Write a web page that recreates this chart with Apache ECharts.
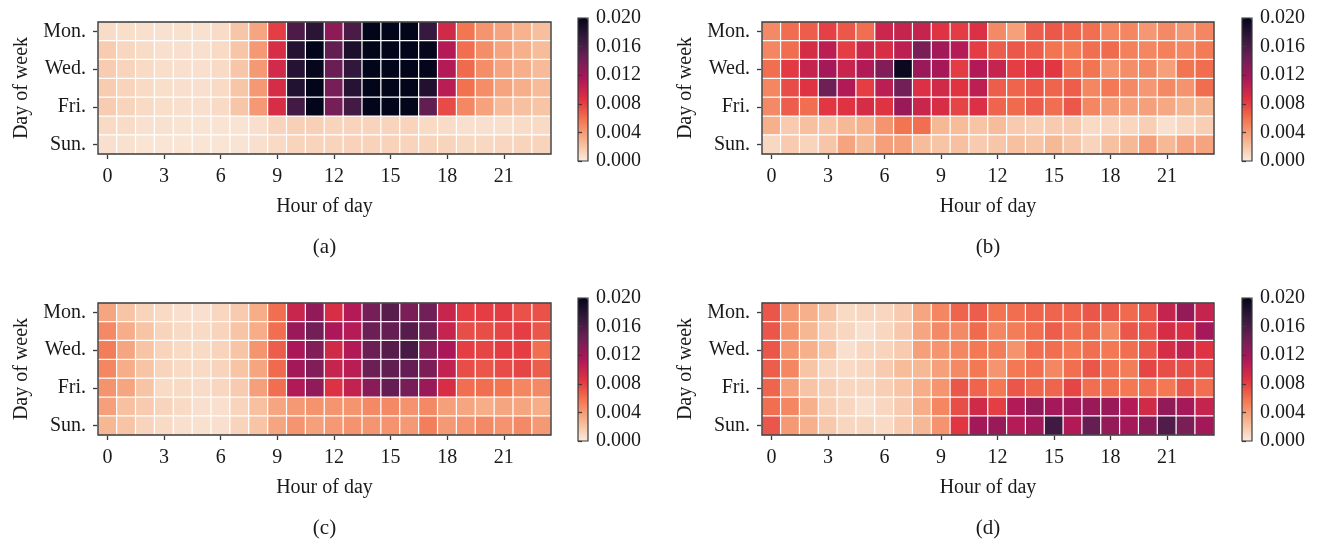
<!DOCTYPE html>
<html>
<head>
<meta charset="utf-8">
<script src="https://cdn.jsdelivr.net/npm/echarts@6/dist/echarts.min.js"></script>
<style>
  html, body { margin: 0; padding: 0; background: #ffffff; }
  #chart { width: 1319px; height: 542px; }
</style>
</head>
<body>
<div id="chart"></div>
<script>
// ---- data -------------------------------------------------------------
const hours = ['0','1','2','3','4','5','6','7','8','9','10','11','12','13','14','15','16','17','18','19','20','21','22','23'];
const days = ['Mon.', 'Tue.', 'Wed.', 'Thu.', 'Fri.', 'Sat.', 'Sun.'];
const panelLabels = ['(a)', '(b)', '(c)', '(d)'];
const colorbarMin = 0;
const colorbarMax = 0.02;
const colorbarStep = 0.004;

// rows: Mon..Sun, columns: hour 0..23
const heatA = [
  [0.0008,0.0007,0.0006,0.0005,0.0005,0.0005,0.0008,0.0019,0.0035,0.0081,0.0160,0.0177,0.0129,0.0161,0.0210,0.0210,0.0210,0.0171,0.0095,0.0057,0.0043,0.0036,0.0029,0.0023],
  [0.0016,0.0011,0.0008,0.0006,0.0006,0.0006,0.0009,0.0019,0.0041,0.0091,0.0180,0.0210,0.0149,0.0185,0.0210,0.0210,0.0210,0.0198,0.0111,0.0060,0.0046,0.0036,0.0030,0.0024],
  [0.0016,0.0012,0.0009,0.0007,0.0006,0.0006,0.0009,0.0019,0.0041,0.0094,0.0180,0.0198,0.0146,0.0174,0.0210,0.0210,0.0210,0.0199,0.0111,0.0062,0.0046,0.0036,0.0031,0.0025],
  [0.0016,0.0012,0.0009,0.0007,0.0006,0.0006,0.0009,0.0019,0.0041,0.0092,0.0182,0.0200,0.0140,0.0180,0.0210,0.0210,0.0210,0.0183,0.0108,0.0059,0.0046,0.0036,0.0031,0.0025],
  [0.0016,0.0012,0.0009,0.0007,0.0006,0.0006,0.0009,0.0019,0.0041,0.0091,0.0165,0.0200,0.0140,0.0165,0.0210,0.0210,0.0210,0.0150,0.0076,0.0049,0.0037,0.0025,0.0022,0.0020],
  [0.0009,0.0008,0.0005,0.0005,0.0004,0.0004,0.0004,0.0004,0.0006,0.0012,0.0014,0.0014,0.0012,0.0012,0.0012,0.0012,0.0012,0.0009,0.0008,0.0006,0.0006,0.0006,0.0008,0.0009],
  [0.0006,0.0005,0.0003,0.0003,0.0003,0.0003,0.0003,0.0004,0.0006,0.0009,0.0012,0.0012,0.0012,0.0013,0.0013,0.0013,0.0012,0.0012,0.0012,0.0010,0.0010,0.0011,0.0012,0.0012]
];
const heatB = [
  [0.0048,0.0061,0.0068,0.0080,0.0070,0.0060,0.0098,0.0101,0.0101,0.0087,0.0082,0.0089,0.0048,0.0038,0.0068,0.0070,0.0064,0.0060,0.0050,0.0050,0.0042,0.0048,0.0042,0.0050],
  [0.0050,0.0061,0.0092,0.0107,0.0081,0.0097,0.0091,0.0106,0.0138,0.0119,0.0110,0.0082,0.0068,0.0070,0.0068,0.0058,0.0055,0.0060,0.0062,0.0052,0.0050,0.0052,0.0050,0.0055],
  [0.0060,0.0083,0.0101,0.0118,0.0100,0.0112,0.0134,0.0195,0.0123,0.0117,0.0082,0.0112,0.0101,0.0081,0.0089,0.0084,0.0060,0.0058,0.0044,0.0046,0.0048,0.0038,0.0058,0.0061],
  [0.0050,0.0075,0.0087,0.0144,0.0112,0.0081,0.0107,0.0142,0.0089,0.0095,0.0086,0.0106,0.0068,0.0065,0.0070,0.0065,0.0068,0.0050,0.0056,0.0048,0.0042,0.0048,0.0044,0.0061],
  [0.0048,0.0068,0.0060,0.0084,0.0087,0.0092,0.0086,0.0123,0.0099,0.0091,0.0078,0.0089,0.0065,0.0062,0.0068,0.0060,0.0070,0.0050,0.0042,0.0038,0.0038,0.0034,0.0028,0.0028],
  [0.0030,0.0017,0.0022,0.0020,0.0026,0.0030,0.0043,0.0058,0.0060,0.0026,0.0024,0.0020,0.0024,0.0017,0.0015,0.0017,0.0017,0.0009,0.0011,0.0011,0.0015,0.0006,0.0011,0.0015],
  [0.0010,0.0017,0.0012,0.0019,0.0036,0.0026,0.0038,0.0038,0.0024,0.0020,0.0022,0.0017,0.0019,0.0022,0.0020,0.0026,0.0019,0.0012,0.0022,0.0026,0.0038,0.0026,0.0036,0.0036]
];
const heatC = [
  [0.0035,0.0020,0.0012,0.0009,0.0006,0.0006,0.0011,0.0017,0.0032,0.0060,0.0099,0.0128,0.0091,0.0111,0.0140,0.0154,0.0138,0.0143,0.0100,0.0081,0.0081,0.0082,0.0073,0.0073],
  [0.0048,0.0032,0.0020,0.0012,0.0009,0.0009,0.0012,0.0020,0.0032,0.0060,0.0123,0.0142,0.0115,0.0110,0.0145,0.0148,0.0156,0.0144,0.0101,0.0074,0.0074,0.0078,0.0081,0.0071],
  [0.0054,0.0035,0.0020,0.0012,0.0009,0.0009,0.0012,0.0020,0.0043,0.0068,0.0115,0.0135,0.0095,0.0112,0.0145,0.0155,0.0162,0.0134,0.0115,0.0081,0.0078,0.0082,0.0081,0.0060],
  [0.0050,0.0032,0.0020,0.0012,0.0009,0.0009,0.0012,0.0020,0.0035,0.0062,0.0119,0.0135,0.0101,0.0108,0.0145,0.0150,0.0148,0.0137,0.0103,0.0074,0.0071,0.0075,0.0078,0.0068],
  [0.0044,0.0035,0.0020,0.0009,0.0009,0.0008,0.0011,0.0017,0.0038,0.0060,0.0112,0.0128,0.0088,0.0103,0.0131,0.0148,0.0140,0.0123,0.0091,0.0060,0.0060,0.0058,0.0050,0.0048],
  [0.0038,0.0022,0.0017,0.0012,0.0009,0.0006,0.0006,0.0012,0.0022,0.0035,0.0041,0.0044,0.0043,0.0043,0.0048,0.0048,0.0044,0.0048,0.0038,0.0035,0.0032,0.0035,0.0035,0.0032],
  [0.0027,0.0020,0.0012,0.0009,0.0006,0.0005,0.0006,0.0012,0.0020,0.0035,0.0043,0.0038,0.0041,0.0044,0.0043,0.0044,0.0041,0.0053,0.0041,0.0044,0.0048,0.0044,0.0048,0.0041]
];
const heatD = [
  [0.0071,0.0041,0.0030,0.0020,0.0009,0.0011,0.0011,0.0017,0.0035,0.0050,0.0065,0.0068,0.0058,0.0060,0.0065,0.0065,0.0065,0.0071,0.0071,0.0062,0.0071,0.0101,0.0126,0.0101],
  [0.0071,0.0043,0.0027,0.0015,0.0011,0.0006,0.0011,0.0018,0.0035,0.0048,0.0048,0.0062,0.0050,0.0054,0.0060,0.0068,0.0060,0.0062,0.0048,0.0071,0.0071,0.0092,0.0091,0.0118],
  [0.0071,0.0043,0.0030,0.0020,0.0006,0.0011,0.0012,0.0017,0.0038,0.0043,0.0050,0.0056,0.0054,0.0044,0.0060,0.0060,0.0056,0.0060,0.0056,0.0060,0.0071,0.0092,0.0103,0.0087],
  [0.0068,0.0050,0.0020,0.0011,0.0009,0.0011,0.0017,0.0024,0.0026,0.0038,0.0048,0.0056,0.0043,0.0056,0.0060,0.0050,0.0060,0.0071,0.0060,0.0054,0.0078,0.0074,0.0074,0.0074],
  [0.0065,0.0038,0.0020,0.0015,0.0011,0.0011,0.0015,0.0020,0.0032,0.0043,0.0071,0.0065,0.0056,0.0071,0.0065,0.0065,0.0078,0.0060,0.0060,0.0056,0.0060,0.0056,0.0071,0.0060],
  [0.0060,0.0050,0.0030,0.0015,0.0011,0.0006,0.0011,0.0017,0.0032,0.0050,0.0074,0.0095,0.0081,0.0112,0.0128,0.0118,0.0118,0.0123,0.0123,0.0110,0.0095,0.0128,0.0118,0.0101],
  [0.0071,0.0041,0.0030,0.0018,0.0011,0.0011,0.0009,0.0017,0.0026,0.0044,0.0085,0.0119,0.0123,0.0110,0.0119,0.0166,0.0112,0.0148,0.0126,0.0118,0.0130,0.0158,0.0138,0.0119]
];
const panelData = [heatA, heatB, heatC, heatD];

// reversed "rocket" ramp, light (low) to dark (high)
const rocketR = ['#faebdd', '#f6b48f', '#f37651', '#e13342', '#ad1759', '#701f57', '#35193e', '#03051a'];

// ---- layout (pixels) --------------------------------------------------
const boxes = [
  { x: 98,  y: 22,  w: 453, h: 132, cbx: 578,  cby: 18,  cbh: 143 },
  { x: 762, y: 22,  w: 452, h: 132, cbx: 1242, cby: 18,  cbh: 143 },
  { x: 98,  y: 303, w: 453, h: 132, cbx: 578,  cby: 298, cbh: 143 },
  { x: 762, y: 303, w: 452, h: 132, cbx: 1242, cby: 298, cbh: 143 }
];

const FONT = '"Liberation Serif", "Times New Roman", serif';
const INK = '#1a1a1a';
const FRAME = '#3a3a3a';
const FS = 20;

const grid = [], xAxis = [], yAxis = [], series = [], visualMap = [], graphic = [];

boxes.forEach((b, i) => {
  // heatmap frame, drawn above the cells
  grid.push({ left: b.x, top: b.y, width: b.w, height: b.h,
    show: true, backgroundColor: 'transparent', borderColor: FRAME, borderWidth: 1.4, z: 5 });
  xAxis.push({
    gridIndex: i, type: 'category', data: hours,
    axisLine: { show: false },
    axisTick: { show: true, alignWithLabel: true, interval: 2, length: 5, lineStyle: { color: FRAME, width: 1.3 } },
    axisLabel: { interval: 2, margin: 13, fontFamily: FONT, fontSize: FS, color: INK },
    splitLine: { show: false },
    name: 'Hour of day', nameLocation: 'middle', nameGap: 43,
    nameTextStyle: { fontFamily: FONT, fontSize: FS, color: INK }
  });
  yAxis.push({
    gridIndex: i, type: 'category', data: days, inverse: true,
    axisLine: { show: false },
    axisTick: { show: true, alignWithLabel: true, interval: 1, length: 5, lineStyle: { color: FRAME, width: 1.3 } },
    axisLabel: { interval: 1, margin: 12, fontFamily: FONT, fontSize: FS, color: INK },
    splitLine: { show: false },
    name: 'Day of week', nameLocation: 'middle', nameGap: 66, nameRotate: 90,
    nameTextStyle: { fontFamily: FONT, fontSize: FS, color: INK }
  });
  const cells = [];
  panelData[i].forEach((row, d) => row.forEach((v, h) => cells.push([h, d, v])));
  series.push({
    type: 'heatmap', xAxisIndex: i, yAxisIndex: i, data: cells,
    itemStyle: { borderColor: '#ffffff', borderWidth: 1.2 },
    emphasis: { disabled: true }, silent: true
  });
  visualMap.push({
    type: 'continuous', seriesIndex: i, min: colorbarMin, max: colorbarMax,
    calculable: false, orient: 'vertical', left: b.cbx, top: b.cby,
    itemWidth: 10, itemHeight: b.cbh, padding: 0, text: null, hoverLink: false,
    inRange: { color: rocketR }
  });
  graphic.push({
    type: 'text', x: b.x + b.w / 2, y: b.y + b.h + 93,
    style: { text: panelLabels[i], fontFamily: FONT, fontSize: FS + 1, fill: INK, align: 'center', verticalAlign: 'middle' }
  });
});

// colorbar scales, one per panel, sharing the bar's position
boxes.forEach((b, i) => {
  const g = grid.length;
  grid.push({ left: b.cbx, top: b.cby, width: 10, height: b.cbh,
    show: true, backgroundColor: 'transparent', borderColor: FRAME, borderWidth: 1.2, z: 10 });
  xAxis.push({ gridIndex: g, type: 'value', show: false });
  yAxis.push({
    gridIndex: g, type: 'value', position: 'right', min: colorbarMin, max: colorbarMax, interval: colorbarStep,
    axisLine: { show: false },
    axisTick: { show: true, length: 4, lineStyle: { color: FRAME, width: 1.2 } },
    axisLabel: { margin: 8, fontFamily: FONT, fontSize: FS, color: INK, formatter: v => v.toFixed(3) },
    splitLine: { show: false }, z: 10
  });
});

const chart = echarts.init(document.getElementById('chart'), null, { renderer: 'canvas' });
chart.setOption({
  backgroundColor: '#ffffff',
  animation: false,
  grid, xAxis, yAxis, series, visualMap, graphic
});
</script>
</body>
</html>
